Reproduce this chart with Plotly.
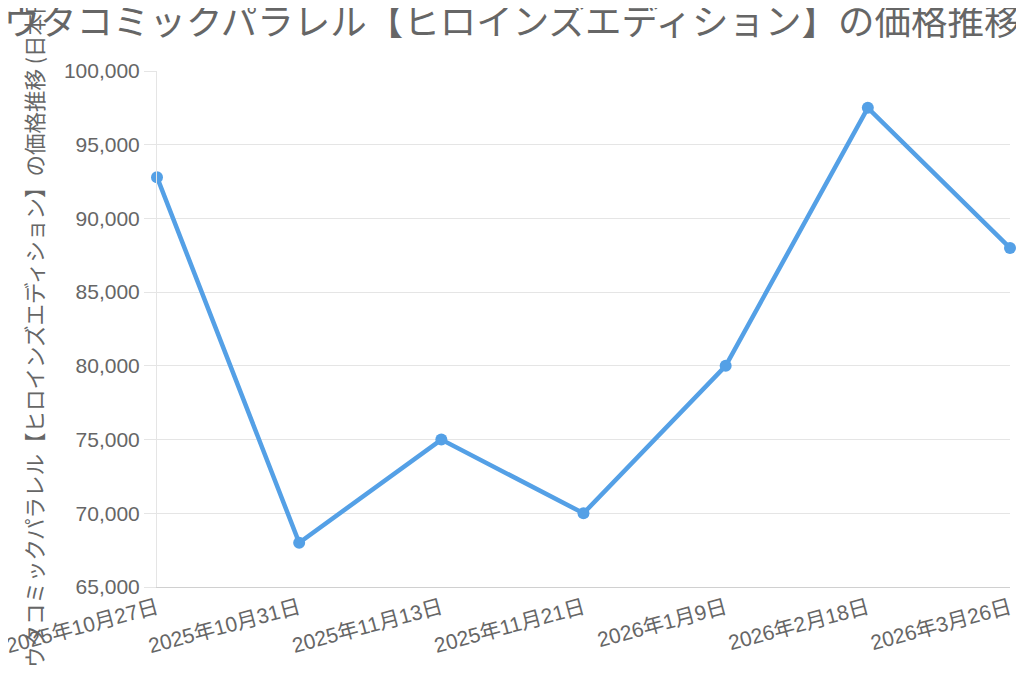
import plotly.graph_objects as go

dates = ["2025年10月27日", "2025年10月31日", "2025年11月13日", "2025年11月21日",
         "2026年1月9日", "2026年2月18日", "2026年3月26日"]
prices = [92800, 68000, 75000, 70000, 80000, 97500, 88000]

title_text = "ウタコミックパラレル【ヒロインズエディション】の価格推移"
y_title = "ウタコミックパラレル【ヒロインズエディション】の価格推移 (日本円)"

FONT = "Liberation Sans, Arial, Noto Sans CJK JP, sans-serif"
TXT = "#666666"
LINE = "rgb(84,160,230)"

# the page body adds an 8px offset, so margins are shifted by 8px
L, T = 149, 63
R = 1024 - (1010 - 8)
B = 676 - (587 - 8)
PW = 1024 - L - R
PH = 676 - T - B

fig = go.Figure()
fig.add_trace(go.Scatter(
    x=dates, y=prices, mode="lines+markers",
    line=dict(color=LINE, width=4.5),
    marker=dict(color=LINE, size=12),
    cliponaxis=False,
    showlegend=False,
))

fig.update_layout(
    width=1024, height=676,
    margin=dict(l=L, r=R, t=T, b=B, autoexpand=False),
    paper_bgcolor="white", plot_bgcolor="white",
    font=dict(family=FONT, color=TXT),
    title=dict(text=title_text, x=(512 - 8) / 1024, xanchor="center", xref="container",
               y=1 - 14 / 676, yref="container", yanchor="middle",
               font=dict(family="Noto Sans CJK JP, sans-serif", size=36.5, color=TXT)),
    xaxis=dict(type="category", range=[0, 6], showgrid=False, automargin=False,
               showline=True, linecolor="#d0d0d0", linewidth=1,
               ticks="", tickangle=-15,
               tickfont=dict(size=21, color=TXT, family=FONT)),
    yaxis=dict(range=[65000, 100000], dtick=5000, tickformat=",d", automargin=False,
               showgrid=True, gridcolor="#e5e5e5", gridwidth=1,
               showline=True, linecolor="#e5e5e5", linewidth=1,
               ticks="outside", ticklen=12, tickcolor="#e5e5e5",
               zeroline=False,
               tickfont=dict(size=21, color=TXT, family=FONT)),
    annotations=[dict(
        text=y_title, textangle=-90, xref="paper", yref="paper",
        x=(33 - 157) / PW, y=(587 - 327) / PH, xanchor="center", yanchor="middle",
        showarrow=False, font=dict(family="Noto Sans CJK JP, sans-serif", size=21.5, color=TXT),
    )],
)

fig.write_html("out.html")
